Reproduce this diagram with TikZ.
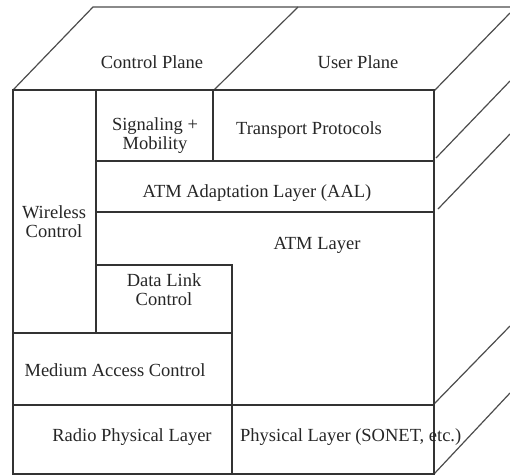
\documentclass[tikz,border=0pt]{standalone}
\usepackage{fontspec}
\setmainfont{Liberation Serif}
\begin{document}
\begin{tikzpicture}[x=1pt,y=-1pt,
  edge/.style={draw=black!80,line width=1.6pt},
  thin edge/.style={draw=black!70,line width=1.2pt},
  lbl/.style={inner sep=0pt,text=black!85,font=\fontsize{18.5}{22}\selectfont,align=center}]
\useasboundingbox (0,0) rectangle (510,475);
% top face
\coordinate (tfl) at (13,90);
\coordinate (tbl) at (93,7);
\coordinate (tbr) at (510,7);
\coordinate (tfm) at (213,91);
\coordinate (tbm) at (298,7);
\draw[thin edge] (tfl) -- (tbl) -- (tbr);
\draw[thin edge] (tfm) -- (tbm);
% right side diagonals
\coordinate (r1a) at (434,91);  \coordinate (r1b) at (510,13);
\coordinate (r2a) at (436,158); \coordinate (r2b) at (510,81);
\coordinate (r3a) at (438,209); \coordinate (r3b) at (510,134);
\coordinate (r4a) at (434,404); \coordinate (r4b) at (510,326);
\coordinate (r5a) at (434,474); \coordinate (r5b) at (510,393);
\draw[thin edge] (r1a) -- (r1b);
\draw[thin edge] (r2a) -- (r2b);
\draw[thin edge] (r3a) -- (r3b);
\draw[thin edge] (r4a) -- (r4b);
\draw[thin edge] (r5a) -- (r5b);
% front face
\draw[edge] (13,90) rectangle (434,474);
\draw[edge] (96,90) -- (96,333);
\draw[edge] (213,90) -- (213,161);
\draw[edge] (96,161) -- (434,161);
\draw[edge] (96,212) -- (434,212);
\draw[edge] (96,265) -- (232,265) -- (232,474);
\draw[edge] (13,333) -- (232,333);
\draw[edge] (13,405) -- (434,405);
% labels
\node[lbl] (cp) at (152,62) {Control Plane};
\node[lbl] (up) at (358,62) {User Plane};
\node[lbl] (sig) at (155,136) {Signaling +\\[-3pt]Mobility};
\node[lbl] (tp) at (309,130) {Transport Protocols};
\node[lbl] (aal) at (257,193) {ATM Adaptation Layer (AAL)};
\node[lbl] (wc) at (54,222) {Wireless\\[-3pt]Control};
\node[lbl] (atm) at (317,245) {ATM Layer};
\node[lbl] (dlc) at (164,290) {Data Link\\[-3pt]Control};
\node[lbl] (mac) at (115,370) {Medium Access Control};
\node[lbl] (rpl) at (132,437) {Radio Physical Layer};
\node[lbl,anchor=west] (pl) at (240,437) {Physical Layer (SONET, etc.)};
\end{tikzpicture}
\end{document}
